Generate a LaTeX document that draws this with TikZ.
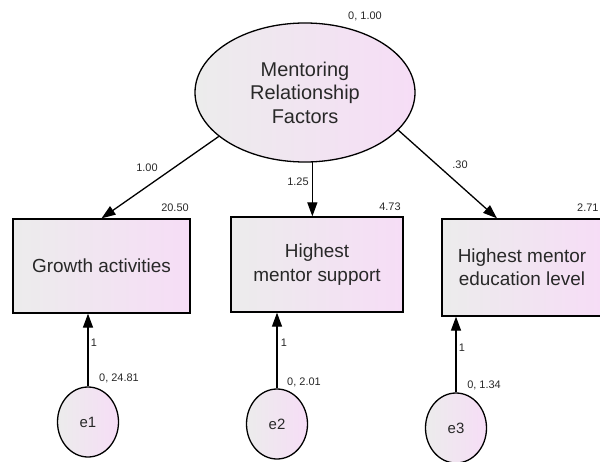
\documentclass[tikz,border=0pt]{standalone}
\usepackage{fontspec}
\setmainfont{Liberation Sans}
\usetikzlibrary{shapes.geometric,arrows.meta,calc}
\definecolor{fillgrey}{RGB}{236,236,236}
\definecolor{fillpink}{RGB}{246,221,246}
\definecolor{inkgrey}{RGB}{40,40,40}
\begin{document}
\begin{tikzpicture}[x=1bp,y=-1bp,
  gradfill/.style={left color=fillgrey,right color=fillpink,draw=black,line width=1.3bp},
  latent/.style={gradfill,ellipse,inner sep=0pt,align=center,text=inkgrey},
  observed/.style={gradfill,rectangle,inner sep=0pt,align=center,text=inkgrey,
    font=\fontsize{19}{23.5}\selectfont},
  errvar/.style={latent,minimum width=61bp,minimum height=70bp,font=\fontsize{15}{18}\selectfont},
  regpath/.style={line width=1.3bp,-{Triangle[length=14bp,width=10bp]}},
  est/.style={font=\fontsize{11}{13}\selectfont,text=inkgrey,inner sep=0pt}]
\useasboundingbox (0,0) rectangle (600,462);

% latent factor
\node[latent,minimum width=220bp,minimum height=139bp,font=\fontsize{20}{23.5}\selectfont]
  (m) at (305,92.5) {Mentoring\\Relationship\\Factors};

% observed indicators
\node[observed,minimum width=177bp,minimum height=94bp] (b1) at (101.5,266) {Growth activities};
\node[observed,minimum width=172bp,minimum height=95bp] (b2) at (317,264.5) {Highest\\mentor support};
\node[observed,minimum width=160bp,minimum height=97bp] (b3) at (522,267.5) {Highest mentor\\education level};

% error terms
\node[errvar] (e1) at (88,422) {e1};
\node[errvar] (e2) at (277,424) {e2};
\node[errvar] (e3) at (456,428) {e3};

% loadings
\coordinate (b3in) at ($(b3.north west)!0.345!(b3.north east)$);
\draw[regpath] (m.207) -- (b1.north);
\draw[regpath] (m.-84) -- (m.-84 |- b2.north);
\draw[regpath] (m.-22) -- (b3in);

% error paths
\draw[regpath] (e1.north) -- (e1.north |- b1.south);
\draw[regpath] (e2.north) -- (e2.north |- b2.south);
\draw[regpath] (e3.north) -- (e3.north |- b3.south);

% estimates
\node[est] (vm) at (365,16) {0, 1.00};
\node[est] (l1) at (147,168) {1.00};
\node[est] (l2) at (298,182) {1.25};
\node[est] (l3) at (460,165) {.30};
\node[est] (v1) at (175,208) {20.50};
\node[est] (v2) at (390,207) {4.73};
\node[est,anchor=west] (v3) at (577,208) {2.71};
\node[est] (w1) at (94,343) {1};
\node[est] (w2) at (284,343) {1};
\node[est] (w3) at (462,348) {1};
\node[est] (ve1) at (119,378) {0, 24.81};
\node[est] (ve2) at (304,382) {0, 2.01};
\node[est] (ve3) at (484,385) {0, 1.34};
\end{tikzpicture}
\end{document}
